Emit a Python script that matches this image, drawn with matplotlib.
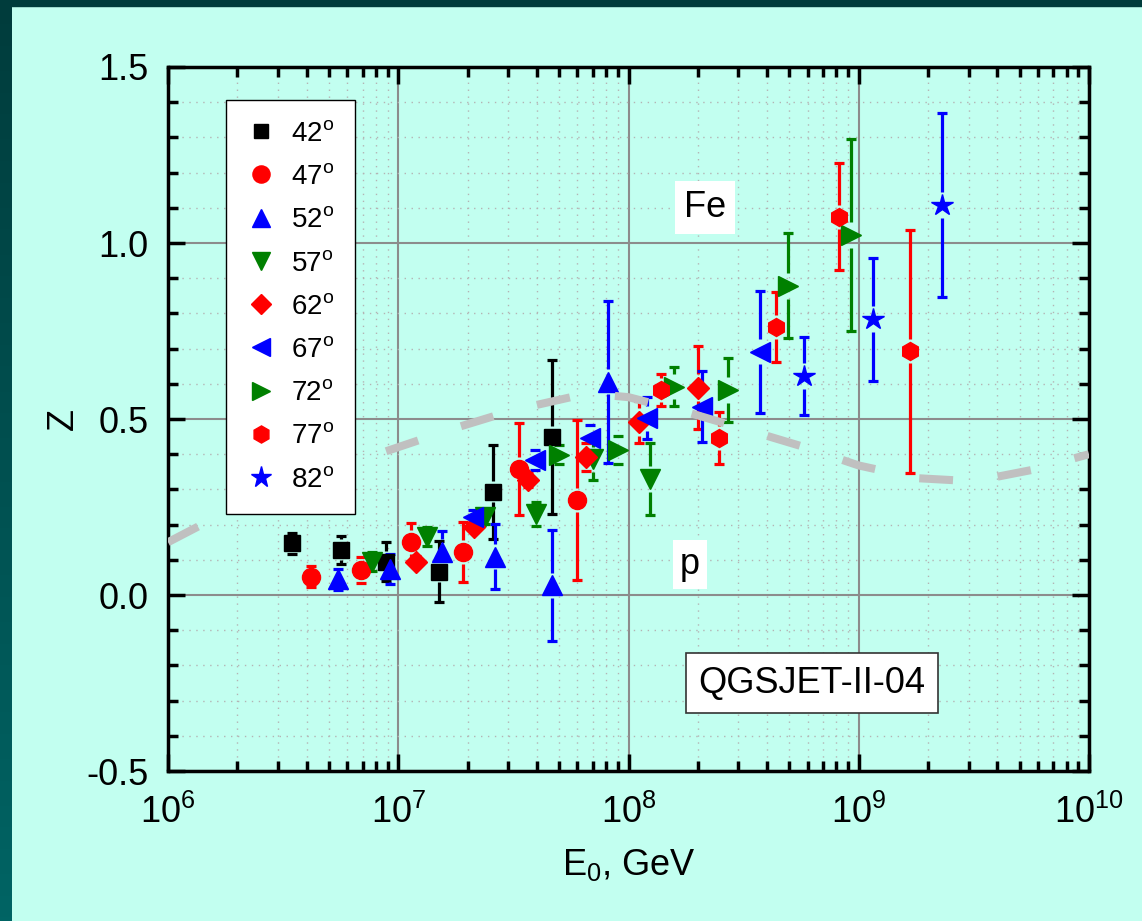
import numpy as np
import matplotlib
matplotlib.use('Agg')
import matplotlib.pyplot as plt
from matplotlib.lines import Line2D
from matplotlib.ticker import MultipleLocator, LogLocator, FormatStrFormatter, NullFormatter

plt.rcParams['font.family'] = ['Liberation Sans', 'DejaVu Sans']
plt.rcParams['mathtext.fontset'] = 'custom'
plt.rcParams['mathtext.rm'] = 'Liberation Sans'
plt.rcParams['mathtext.it'] = 'Liberation Sans:italic'
plt.rcParams['mathtext.bf'] = 'Liberation Sans:bold'

# zenith angle groups: energy (GeV), Z, error
e42 = [3.44e6, 5.64e6, 8.85e6, 1.51e7, 2.57e7, 4.64e7]
z42 = [0.147, 0.128, 0.095, 0.066, 0.293, 0.449]
d42 = [0.030, 0.040, 0.055, 0.086, 0.134, 0.220]

e47 = [4.17e6, 6.87e6, 1.136e7, 1.916e7, 3.35e7, 5.99e7]
z47 = [0.052, 0.071, 0.150, 0.121, 0.358, 0.270]
d47 = [0.030, 0.038, 0.054, 0.085, 0.130, 0.228]

e52 = [5.46e6, 9.21e6, 1.545e7, 2.63e7, 4.65e7, 8.17e7]
z52 = [0.045, 0.073, 0.122, 0.109, 0.027, 0.606]
d52 = [0.030, 0.043, 0.060, 0.092, 0.158, 0.230]

e57 = [7.67e6, 1.329e7, 2.38e7, 3.95e7, 7.03e7, 1.24e8]
z57 = [0.095, 0.166, 0.222, 0.230, 0.385, 0.330]
d57 = [0.026, 0.027, 0.020, 0.035, 0.058, 0.103]

e62 = [1.191e7, 2.13e7, 3.67e7, 6.54e7, 1.114e8, 2.01e8]
z62 = [0.095, 0.194, 0.327, 0.393, 0.492, 0.589]
d62 = [0.015, 0.015, 0.020, 0.040, 0.060, 0.118]

e67 = [2.118e7, 3.926e7, 6.81e7, 1.20e8, 2.079e8, 3.725e8]
z67 = [0.222, 0.384, 0.447, 0.502, 0.535, 0.691]
d67 = [0.020, 0.028, 0.035, 0.060, 0.100, 0.173]

e72 = [5.0e7, 9.03e7, 1.576e8, 2.713e8, 4.913e8, 9.25e8]
z72 = [0.398, 0.412, 0.592, 0.582, 0.878, 1.023]
d72 = [0.027, 0.040, 0.056, 0.090, 0.149, 0.272]

e77 = [1.384e8, 2.48e8, 4.358e8, 8.21e8, 1.67e9]
z77 = [0.582, 0.446, 0.761, 1.075, 0.693]
d77 = [0.046, 0.073, 0.100, 0.153, 0.345]

e82 = [5.78e8, 1.157e9, 2.29e9]
z82 = [0.622, 0.783, 1.108]
d82 = [0.111, 0.175, 0.260]

# model curve (log10 E0, Z)
curve_logE = [6.0, 6.25, 6.5, 6.75, 7.0, 7.25, 7.5, 7.75, 7.9, 8.0, 8.25,
              8.5, 8.75, 9.0, 9.25, 9.5, 9.75, 10.0]
curve_Z = [0.150, 0.235, 0.310, 0.365, 0.420, 0.475, 0.525, 0.562, 0.568, 0.562, 0.520,
           0.472, 0.423, 0.368, 0.332, 0.323, 0.355, 0.400]

angles = ['42', '47', '52', '57', '62', '67', '72', '77', '82']
series = [(e42, z42, d42), (e47, z47, d47), (e52, z52, d52), (e57, z57, d57),
          (e62, z62, d62), (e67, z67, d67), (e72, z72, d72), (e77, z77, d77),
          (e82, z82, d82)]
markers = ['s', 'o', '^', 'v', 'D', '<', '>', 'h', '*']
sizes = [11, 13, 14, 14, 11, 14, 14, 13, 16]
half_px = [7.5, 9, 9.7, 9.7, 10.8, 9.7, 9.7, 9, 10]
colors = ['black', 'red', 'blue', 'green', 'red', 'blue', 'green', 'red', 'blue']

bg = '#c2fff0'
fig = plt.figure(figsize=(11.42, 9.21), dpi=100, facecolor=bg)

# dark slide frame on top and left
fig.patches.append(plt.Rectangle((0, 1 - 6 / 921), 1, 6 / 921, transform=fig.transFigure,
                                 color='#003c3c', zorder=0))
strip = fig.add_axes([0, 0, 12 / 1142, 1])
grad = np.linspace(0, 1, 256).reshape(-1, 1)
cmap = matplotlib.colors.LinearSegmentedColormap.from_list('s', ['#003c3c', '#006464'])
strip.imshow(grad, aspect='auto', cmap=cmap)
strip.axis('off')

ax = fig.add_axes([168 / 1142, 150 / 921, 921 / 1142, 704 / 921])
ax.set_facecolor(bg)
ax.set_xscale('log')
ax.set_xlim(1e6, 1e10)
ax.set_ylim(-0.5, 1.5)
ax.yaxis.set_major_locator(MultipleLocator(0.5))
ax.yaxis.set_minor_locator(MultipleLocator(0.1))
ax.yaxis.set_major_formatter(FormatStrFormatter('%.1f'))
ax.xaxis.set_major_locator(LogLocator(base=10, numticks=10))
ax.xaxis.set_minor_locator(LogLocator(base=10, subs=np.arange(2, 10), numticks=20))
ax.xaxis.set_minor_formatter(NullFormatter())

ax.grid(which='major', color='#8c8c8c', lw=1.5)
ax.grid(which='minor', color='#b4b4b4', lw=1, linestyle=(0, (1, 4)))
ax.set_axisbelow(True)
ax.tick_params(which='both', direction='in', top=True, right=True, width=2.5,
               labelsize=26)
ax.tick_params(which='major', length=12)
ax.tick_params(which='minor', length=7)
ax.tick_params(axis='x', pad=17)
ax.tick_params(axis='y', pad=14)
for s in ax.spines.values():
    s.set_linewidth(2.5)

# error bars with a small gap around each marker
fig.canvas.draw()
unit_per_px = 2.0 / ax.bbox.height
for (e, z, d), m, ms, hp, c in zip(series, markers, sizes, half_px, colors):
    e = np.array(e)
    z = np.array(z)
    d = np.array(d)
    gap = (hp + 3) * unit_per_px
    for xi, zi, di in zip(e, z, d):
        if di > gap:
            ax.vlines(xi, zi + gap, zi + di, color=c, lw=2.3, zorder=3)
            ax.vlines(xi, zi - di, zi - gap, color=c, lw=2.3, zorder=3)
    ax.plot(e, z + d, '_', color=c, ms=7, mew=2.3, zorder=3, ls='none')
    ax.plot(e, z - d, '_', color=c, ms=7, mew=2.3, zorder=3, ls='none')
    ax.plot(e, z, m, color=c, ms=ms, mec=c, ls='none', zorder=4)

ax.plot(10 ** np.array(curve_logE), curve_Z, color='#c0c0c0', lw=5.8,
        dashes=(4.2, 5.6), zorder=6)

handles = [Line2D([], [], marker=m, color=c, ms=ms * 0.95, ls='none')
           for m, c, ms in zip(markers, colors, sizes)]
labels = [a + r'$^\mathrm{o}$' for a in angles]
leg = ax.legend(handles, labels, loc='upper left', bbox_to_anchor=(0.063, 0.953),
                fontsize=20, frameon=True, fancybox=False, framealpha=1,
                edgecolor='black', handlelength=1.0, handletextpad=0.6,
                labelspacing=0.62, borderpad=0.75, borderaxespad=0)
leg.get_frame().set_linewidth(1.0)
leg.set_zorder(7)

ax.text(0.583, 0.801, 'Fe', transform=ax.transAxes, fontsize=26, ha='center', va='center',
        bbox=dict(boxstyle='square,pad=0.25', fc='white', ec='none'), zorder=7)
ax.text(0.567, 0.293, 'p', transform=ax.transAxes, fontsize=26, ha='center', va='center',
        bbox=dict(boxstyle='square,pad=0.2', fc='white', ec='none'), zorder=7)
ax.text(0.699, 0.125, 'QGSJET-II-04', transform=ax.transAxes, fontsize=26,
        ha='center', va='center',
        bbox=dict(boxstyle='square,pad=0.35', fc='white', ec='#333333', lw=1.2), zorder=7)

ax.set_ylabel('Z', fontsize=26, labelpad=4)
ax.set_xlabel(r'E$_0$, GeV', fontsize=26, labelpad=12)

fig.savefig('out.png', dpi=100, facecolor=bg)
